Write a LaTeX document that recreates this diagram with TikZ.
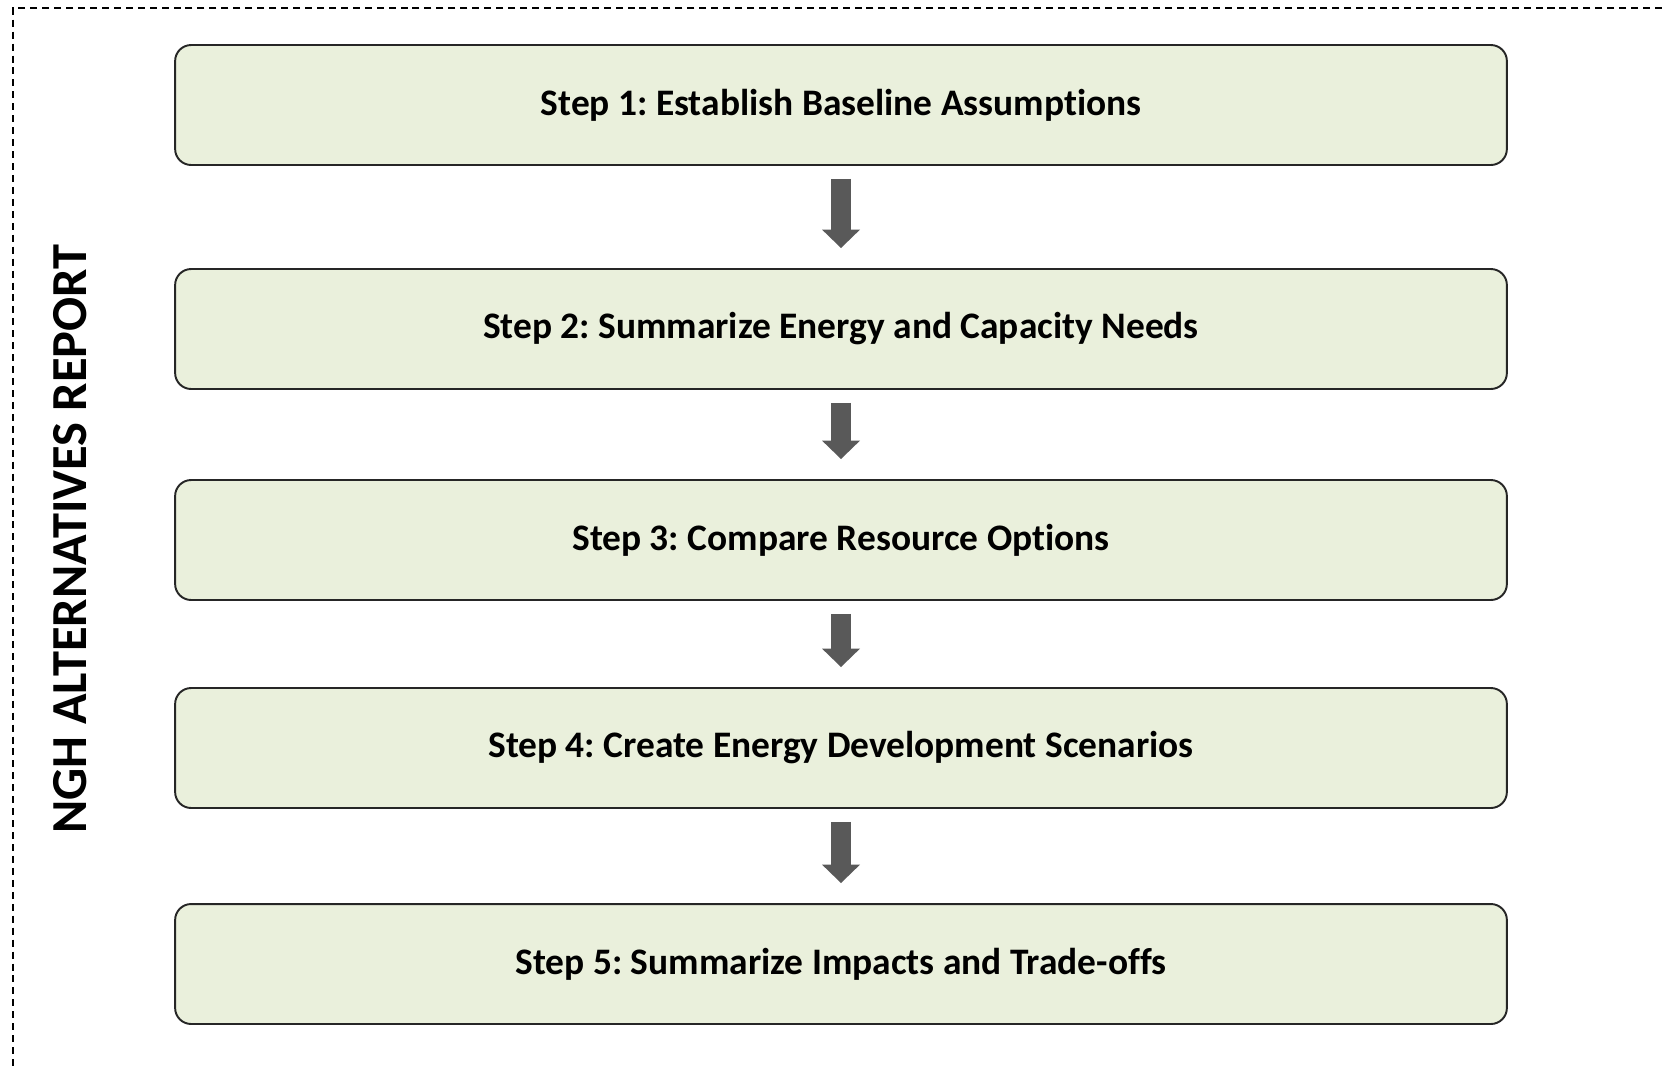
\documentclass[tikz,border=0pt]{standalone}
\usepackage{fontspec}
\setmainfont{Carlito}[Ligatures=NoCommon]
\usetikzlibrary{arrows.meta}

\definecolor{stepfill}{HTML}{EAF0DC}
\definecolor{arrowgray}{HTML}{595959}

\frenchspacing
\begin{document}
\begin{tikzpicture}[x=0.02cm,y=-0.02cm,
    stepbox/.style={draw=black!85, line width=1.1pt, fill=stepfill,
        rounded corners=0.32cm, minimum width=26.64cm, minimum height=2.4cm,
        font=\bfseries\fontsize{21.3}{26}\selectfont},
    downarrow/.style={draw=arrowgray, line width=11.3pt,
        -{Triangle[length=10.5pt,width=21pt]},
        shorten <=0.26cm, shorten >=0.4cm}]
    \useasboundingbox (0,0) rectangle (1662,1066);

    % frame, open to the right and at the bottom
    \draw[line width=0.85pt, dash pattern=on 4pt off 2.8pt] (1662,8) -- (13,8) -- (13,1066);

    \node[rotate=90, font=\bfseries\fontsize{28.7}{34}\selectfont] (title) at (70,539) {NGH ALTERNATIVES REPORT};

    \foreach \n/\y/\t in {1/105/{Establish Baseline Assumptions},
                          2/329/{Summarize Energy and Capacity Needs},
                          3/540/{Compare Resource Options},
                          4/748/{Create Energy Development Scenarios},
                          5/964/{Summarize Impacts and Trade-offs}}{
        \node[stepbox] (s\n) at (841,\y) {Step \n: \t};
    }
    \foreach \a/\b in {1/2,2/3,3/4,4/5}{
        \draw[downarrow] (s\a) -- (s\b);
    }
\end{tikzpicture}
\end{document}
